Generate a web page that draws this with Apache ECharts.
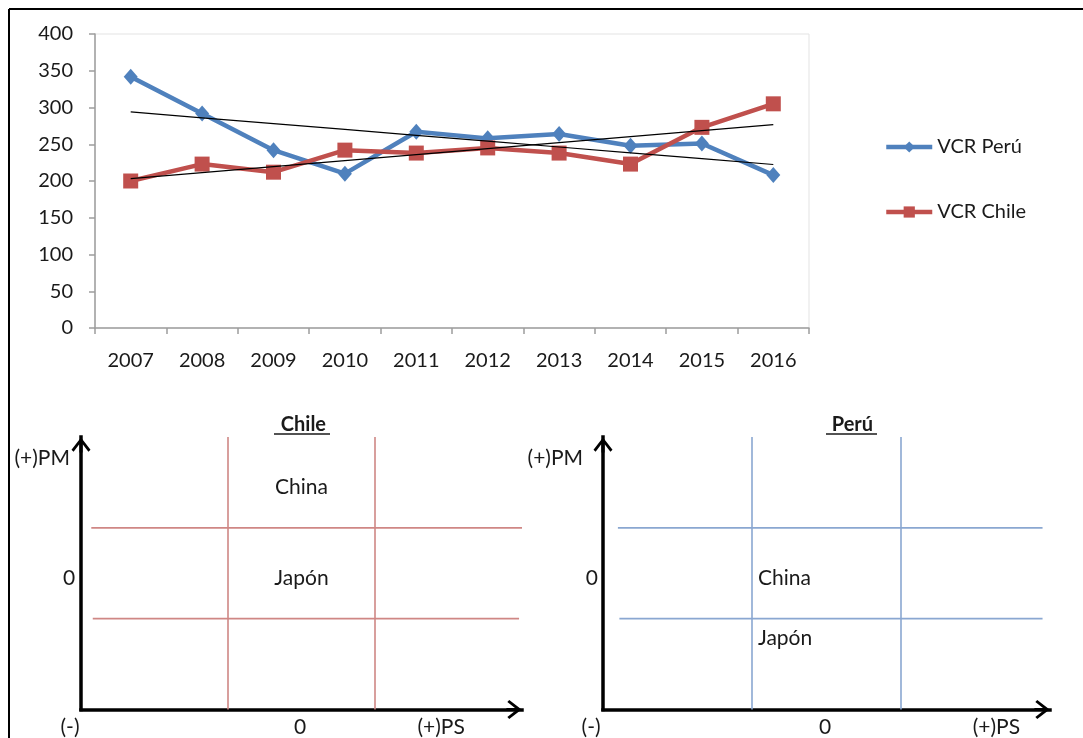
<!DOCTYPE html>
<html>
<head>
<meta charset="utf-8">
<title>VCR Perú y Chile</title>
<script src="https://cdn.jsdelivr.net/npm/echarts@6/dist/echarts.min.js"></script>
<style>
  html, body { margin: 0; padding: 0; background: #ffffff; }
  #chart { width: 1083px; height: 738px; }
</style>
</head>
<body>
<div id="chart"></div>
<script>
// ---- Line chart data: Ventaja Comparativa Revelada (VCR) ----
var years = ['2007', '2008', '2009', '2010', '2011', '2012', '2013', '2014', '2015', '2016'];
var vcrPeru  = [342, 292, 242, 210, 267, 258, 264, 248, 251, 208];
var vcrChile = [200, 223, 212, 242, 238, 245, 238, 223, 273, 305];
var yTicks = [0, 50, 100, 150, 200, 250, 300, 350, 400];

// ---- Quadrant diagrams (PS horizontal, PM vertical, 3 x 3 cells) ----
var quadDividers = [1, 2];
// horizontal divider extents [xStart, xEnd] per diagram
var chileHExtent = [[0.08, 2.98], [0.07, 3.0]];
var peruHExtent  = [[0.11, 2.95], [0.10, 2.95]];
// cell / axis texts: [x, y, text]
var chileCells = [[1.5, 2.45, 'China'], [1.5, 1.44, 'Japón']];
var peruCells  = [[1.04, 1.45, 'China'], [1.04, 0.79, 'Japón']];
var chileAxisText = { pm: [-0.075, 2.77, '(+)PM'], zeroY: [-0.04, 1.44, '0'], minus: [-0.075, -0.2, '(-)'], zeroX: [1.49, -0.2, '0'], ps: [2.45, -0.2, '(+)PS'] };
var peruAxisText  = { pm: [-0.134, 2.77, '(+)PM'], zeroY: [-0.034, 1.44, '0'], minus: [-0.08, -0.2, '(-)'], zeroX: [1.49, -0.2, '0'], ps: [2.64, -0.2, '(+)PS'] };

var FONT = 'Lato';
var TEXT = '#1a1a1a';
var BLUE = '#4f81bd';
var RED = '#c0504d';

// least-squares trend across the category index
function trendLine(vals) {
  var n = vals.length, sx = 0, sy = 0, sxy = 0, sxx = 0;
  vals.forEach(function (v, i) { sx += i; sy += v; sxy += i * v; sxx += i * i; });
  var slope = (n * sxy - sx * sy) / (n * sxx - sx * sx);
  var b = (sy - slope * sx) / n;
  return vals.map(function (_, i) { return +(b + slope * i).toFixed(2); });
}

// upward open arrowhead with a short stem so it joins the axis line
var ARROW = 'path://M10,0 L20,13 L17.8,15 L11.6,7 L11.6,16 L8.4,16 L8.4,7 L2.2,15 L0,13 Z';

function quadAxis(gridIndex, max) {
  return {
    type: 'value', gridIndex: gridIndex, min: 0, max: max,
    axisLine: {
      show: true, onZero: false,
      symbol: ['none', ARROW],
      symbolSize: [19, 16],
      symbolOffset: [0, -8],
      lineStyle: { color: '#000', width: 3.5, cap: 'square' }
    },
    axisTick: { show: false }, axisLabel: { show: false }, splitLine: { show: false }
  };
}

function segSeries(idx, data, color) {
  return {
    type: 'line', xAxisIndex: idx, yAxisIndex: idx, data: data,
    symbol: 'none', silent: true, animation: false,
    lineStyle: { color: color, width: 1.6 }, z: 1
  };
}

function textLabel(extra) {
  var base = {
    show: true, formatter: '{b}', position: 'inside', verticalAlign: 'middle',
    fontFamily: FONT, fontSize: 21, color: TEXT, textBorderWidth: 0, opacity: 1
  };
  for (var k in extra) base[k] = extra[k];
  return base;
}

function quadSeries(idx, hExt, color, cells, axisText) {
  var out = [];
  quadDividers.forEach(function (v, k) {
    out.push(segSeries(idx, [[hExt[k][0], v], [hExt[k][1], v]], color));
    out.push(segSeries(idx, [[v, 0], [v, 3]], color));
  });
  out.push({
    type: 'scatter', xAxisIndex: idx, yAxisIndex: idx, clip: false, silent: true,
    symbolSize: 0, animation: false, itemStyle: { color: TEXT },
    data: cells.map(function (c) { return { value: [c[0], c[1]], name: c[2] }; }),
    label: textLabel({ align: idx === 2 ? 'left' : 'center' })
  });
  var axisItems = [
    { t: axisText.pm, align: 'right' },
    { t: axisText.zeroY, align: 'right' },
    { t: axisText.minus, align: 'center' },
    { t: axisText.zeroX, align: 'center' },
    { t: axisText.ps, align: 'center' }
  ];
  out.push({
    type: 'scatter', xAxisIndex: idx, yAxisIndex: idx, clip: false, silent: true,
    symbolSize: 0, animation: false, itemStyle: { color: TEXT },
    data: axisItems.map(function (a) {
      return { value: [a.t[0], a.t[1]], name: a.t[2], label: { align: a.align } };
    }),
    label: textLabel({})
  });
  return out;
}

var chart = echarts.init(document.getElementById('chart'), null, { renderer: 'canvas' });

var option = {
  backgroundColor: '#ffffff',
  animation: false,
  textStyle: { fontFamily: FONT, color: TEXT },
  title: [
    { text: ' Chile', left: 296, top: 410, textAlign: 'center',
      textStyle: { fontFamily: FONT, fontSize: 20, fontWeight: 'bold', color: TEXT } },
    { text: ' Perú', left: 845, top: 410, textAlign: 'center',
      textStyle: { fontFamily: FONT, fontSize: 20, fontWeight: 'bold', color: TEXT } }
  ],
  legend: {
    data: ['VCR Perú', 'VCR Chile'],
    orient: 'vertical', left: 879, top: 131,
    itemWidth: 46, itemHeight: 14, itemGap: 43,
    lineStyle: { width: 4.5 },
    textStyle: { fontFamily: FONT, fontSize: 20, color: TEXT, lineHeight: 22 }
  },
  grid: [
    { left: 95, top: 34, width: 714, height: 294, show: true, borderColor: '#e3e3e3', borderWidth: 1, backgroundColor: 'transparent' },
    { left: 81, top: 437, width: 441, height: 272.5 },
    { left: 603, top: 437, width: 447, height: 272.5 }
  ],
  xAxis: [
    {
      type: 'category', gridIndex: 0, data: years, boundaryGap: true,
      axisLine: { lineStyle: { color: '#9d9d9d', width: 1.5 } },
      axisTick: { show: true, length: 6, lineStyle: { color: '#9d9d9d', width: 1.5 } },
      axisLabel: { fontFamily: FONT, fontSize: 20, color: TEXT, margin: 23 },
      splitLine: { show: false }
    },
    quadAxis(1, 3),
    quadAxis(2, 3)
  ],
  yAxis: [
    {
      type: 'value', gridIndex: 0, min: yTicks[0], max: yTicks[yTicks.length - 1], interval: 50,
      axisLine: { show: true, lineStyle: { color: '#9d9d9d', width: 1.5 } },
      axisTick: { show: true, length: 6, lineStyle: { color: '#9d9d9d', width: 1.5 } },
      axisLabel: { fontFamily: FONT, fontSize: 20, color: TEXT, margin: 22 },
      splitLine: { show: false }
    },
    quadAxis(1, 3),
    quadAxis(2, 3)
  ],
  series: [
    {
      name: 'VCR Perú', type: 'line', xAxisIndex: 0, yAxisIndex: 0, data: vcrPeru,
      symbol: 'diamond', symbolSize: [14, 16], z: 3,
      lineStyle: { color: BLUE, width: 4.5 }, itemStyle: { color: BLUE }
    },
    {
      name: 'VCR Chile', type: 'line', xAxisIndex: 0, yAxisIndex: 0, data: vcrChile,
      symbol: 'rect', symbolSize: 15, z: 3,
      lineStyle: { color: RED, width: 4.5 }, itemStyle: { color: RED }
    },
    {
      name: 'Tendencia Perú', type: 'line', xAxisIndex: 0, yAxisIndex: 0, data: trendLine(vcrPeru),
      symbol: 'none', silent: true, z: 4, lineStyle: { color: '#000', width: 1.2 }
    },
    {
      name: 'Tendencia Chile', type: 'line', xAxisIndex: 0, yAxisIndex: 0, data: trendLine(vcrChile),
      symbol: 'none', silent: true, z: 4, lineStyle: { color: '#000', width: 1.2 }
    }
  ]
    .concat(quadSeries(1, chileHExtent, '#cf8785', chileCells, chileAxisText))
    .concat(quadSeries(2, peruHExtent, '#8aa7d1', peruCells, peruAxisText)),
  graphic: [
    // outer frame (top and left edges)
    { type: 'line', shape: { x1: 9, y1: 9, x2: 1083, y2: 9 }, style: { stroke: '#000', lineWidth: 2 }, silent: true },
    { type: 'line', shape: { x1: 9, y1: 9, x2: 9, y2: 738 }, style: { stroke: '#000', lineWidth: 2 }, silent: true },
    // title underlines
    { type: 'line', shape: { x1: 274, y1: 434, x2: 330, y2: 434 }, style: { stroke: TEXT, lineWidth: 1.3 }, silent: true },
    { type: 'line', shape: { x1: 826, y1: 434, x2: 877, y2: 434 }, style: { stroke: TEXT, lineWidth: 1.3 }, silent: true }
  ]
};

chart.setOption(option);
</script>
</body>
</html>
